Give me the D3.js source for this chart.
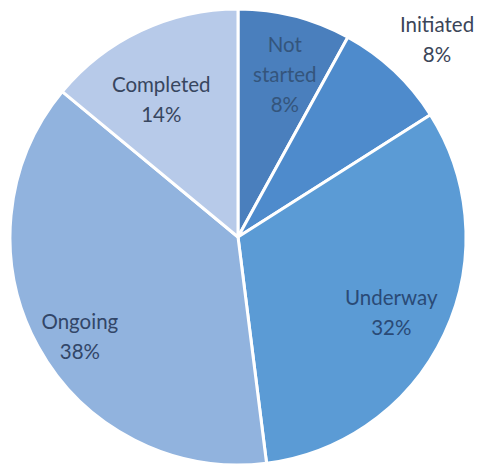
<!DOCTYPE html>
<html>
<head>
<meta charset="utf-8">
<script src="https://cdn.jsdelivr.net/npm/d3@7"></script>
<style>
  html, body { margin: 0; padding: 0; background: #ffffff; }
  svg { display: block; }
  text { font-family: Lato, "Open Sans", sans-serif; }
</style>
</head>
<body>
<svg id="chart" width="484" height="469"></svg>
<script>
const categories = ["Not started", "Initiated", "Underway", "Ongoing", "Completed"];
const values = [8, 8, 32, 38, 14];
const labelLines = [["Not", "started", "8%"], ["Initiated", "8%"], ["Underway", "32%"], ["Ongoing", "38%"], ["Completed", "14%"]];
const colors = ["#4a7fbd", "#4e8bcc", "#5b9bd5", "#91b3de", "#b7cae9"];

const W = 484, H = 469;
const cx = 238, cy = 237, R = 228;
const labelRadius = [0.74, 1.23, 0.75, 0.82, 0.69];
const labelAngleShift = [0.03, 0.035, 0.02, -0.06, -0.07];
const textColors = ["#34557c", "#3b4558", "#2a4a76", "#324668", "#37465f"];

const svg = d3.select("#chart");
const g = svg.append("g").attr("transform", `translate(${cx},${cy})`);

const pie = d3.pie().sort(null).value(d => d)(values);
const arc = d3.arc().innerRadius(0).outerRadius(R);

g.selectAll("path.slice")
  .data(pie)
  .join("path")
  .attr("class", "slice")
  .attr("d", arc)
  .attr("fill", (d, i) => colors[i])
  .attr("stroke", "#ffffff")
  .attr("stroke-width", 3)
  .attr("stroke-linejoin", "round");

const fs = 20.5, lh = 30;
pie.forEach((d, i) => {
  const a = (d.startAngle + d.endAngle) / 2 + labelAngleShift[i];
  const r = R * labelRadius[i];
  const x = Math.sin(a) * r;
  const y = -Math.cos(a) * r;
  const lines = labelLines[i];
  const t = g.append("text")
    .attr("text-anchor", "middle")
    .attr("font-size", fs)
    .attr("fill", textColors[i]);
  lines.forEach((ln, k) => {
    t.append("tspan")
      .attr("x", x)
      .attr("y", y + (k - (lines.length - 1) / 2) * lh + fs * 0.35)
      .text(ln);
  });
});
</script>
</body>
</html>
